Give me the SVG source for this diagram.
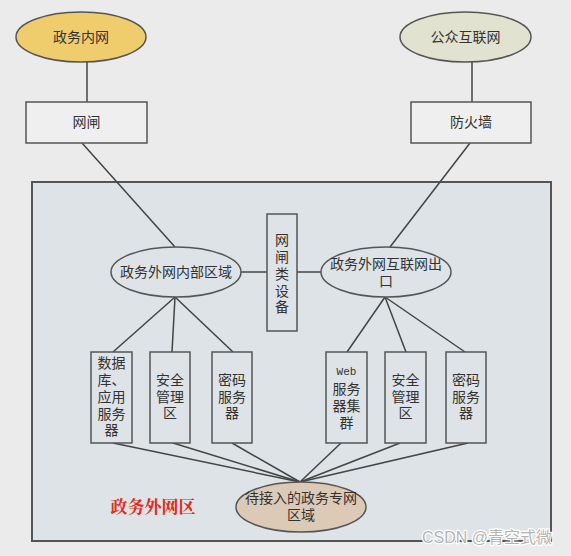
<svg xmlns="http://www.w3.org/2000/svg" width="571" height="556" viewBox="0 0 571 556">
<style>
.t{font-family:"Liberation Sans","Noto Sans CJK SC",sans-serif;font-size:14px;fill:#333;text-anchor:middle;dominant-baseline:central}
.n{stroke:#555;stroke-width:1.5}
.c line{stroke:#444;stroke-width:1.5}
</style>
<rect width="571" height="556" fill="#ebebeb"/>
<g id="zone">
<rect x="32" y="182" width="519" height="359" fill="#dde3e6" stroke="#555" stroke-width="2"/>
<text x="153" y="505" font-family="'Noto Serif CJK SC','Noto Sans CJK SC',serif" font-size="17" font-weight="bold" fill="#e02a20" text-anchor="middle" dominant-baseline="central">政务外网区</text>
</g>
<g class="c" id="connectors">
<line x1="87" y1="62" x2="87" y2="102"/>
<line x1="472" y1="62" x2="472" y2="102"/>
<line x1="82" y1="143" x2="175" y2="247"/>
<line x1="470" y1="143" x2="390" y2="247"/>
<line x1="241" y1="272" x2="267" y2="272"/>
<line x1="297" y1="272" x2="321" y2="272"/>
<line x1="175" y1="297" x2="113" y2="352"/>
<line x1="175" y1="297" x2="172" y2="352"/>
<line x1="175" y1="297" x2="233" y2="352"/>
<line x1="385" y1="297" x2="347" y2="352"/>
<line x1="385" y1="297" x2="406" y2="352"/>
<line x1="385" y1="297" x2="465" y2="352"/>
<line x1="113" y1="443" x2="300" y2="482"/>
<line x1="173" y1="443" x2="300" y2="482"/>
<line x1="232" y1="443" x2="300" y2="482"/>
<line x1="341" y1="443" x2="300" y2="482"/>
<line x1="400" y1="443" x2="300" y2="482"/>
<line x1="468" y1="443" x2="300" y2="482"/>
</g>
<g id="n-zwnw"><ellipse class="n" cx="81" cy="37" rx="65" ry="25" fill="#efcd6c"/><text class="t" x="81" y="37">政务内网</text></g>
<g id="n-gzhlw"><ellipse class="n" cx="465.5" cy="37" rx="65.5" ry="25" fill="#e1e2d0"/><text class="t" x="465.5" y="37">公众互联网</text></g>
<g id="n-wz"><rect class="n" x="26" y="102" width="121" height="41" fill="#efefef"/><text class="t" x="86.5" y="122">网闸</text></g>
<g id="n-fhq"><rect class="n" x="411" y="102" width="120" height="41" fill="#efefef"/><text class="t" x="471" y="122">防火墙</text></g>
<g id="n-inner"><ellipse class="n" cx="176" cy="272" rx="65" ry="25" fill="#dde3e6"/><text class="t" x="176" y="272">政务外网内部区域</text></g>
<g id="n-gate"><rect class="n" x="267" y="214" width="30" height="117" fill="#dde3e6"/>
<text class="t" x="282" font-size="15"><tspan x="282" y="240">网</tspan><tspan x="282" y="257">闸</tspan><tspan x="282" y="274">类</tspan><tspan x="282" y="291">设</tspan><tspan x="282" y="307">备</tspan></text></g>
<g id="n-egress"><ellipse class="n" cx="386" cy="272" rx="65" ry="25" fill="#dde3e6"/><text class="t"><tspan x="386" y="264">政务外网互联网出</tspan><tspan x="386" y="281">口</tspan></text></g>
<g id="n-db"><rect class="n" x="91" y="352" width="41" height="91" fill="#dde3e6"/><text class="t"><tspan x="111.5" y="363">数据</tspan><tspan x="111.5" y="380">库、</tspan><tspan x="111.5" y="397">应用</tspan><tspan x="111.5" y="414">服务</tspan><tspan x="111.5" y="430">器</tspan></text></g>
<g id="n-sec1"><rect class="n" x="150" y="352" width="40" height="91" fill="#dde3e6"/><text class="t"><tspan x="170" y="380">安全</tspan><tspan x="170" y="397">管理</tspan><tspan x="170" y="413">区</tspan></text></g>
<g id="n-key1"><rect class="n" x="212" y="352" width="40" height="91" fill="#dde3e6"/><text class="t"><tspan x="232" y="380">密码</tspan><tspan x="232" y="397">服务</tspan><tspan x="232" y="413">器</tspan></text></g>
<g id="n-web"><rect class="n" x="326" y="352" width="41" height="91" fill="#dde3e6"/><text class="t"><tspan x="346.5" y="372" font-family="'Liberation Mono',monospace" font-size="11">Web</tspan><tspan x="346.5" y="389">服务</tspan><tspan x="346.5" y="406">器集</tspan><tspan x="346.5" y="423">群</tspan></text></g>
<g id="n-sec2"><rect class="n" x="385" y="352" width="41" height="91" fill="#dde3e6"/><text class="t"><tspan x="405.5" y="380">安全</tspan><tspan x="405.5" y="397">管理</tspan><tspan x="405.5" y="413">区</tspan></text></g>
<g id="n-key2"><rect class="n" x="446" y="352" width="40" height="91" fill="#dde3e6"/><text class="t"><tspan x="466" y="380">密码</tspan><tspan x="466" y="397">服务</tspan><tspan x="466" y="413">器</tspan></text></g>
<g id="n-pending"><ellipse class="n" cx="301" cy="507" rx="65" ry="25" fill="#dccab6"/><text class="t"><tspan x="301" y="498">待接入的政务专网</tspan><tspan x="301" y="515">区域</tspan></text></g>
<text x="487" y="537" font-family="'Liberation Sans','Noto Sans CJK SC',sans-serif" font-size="16" fill="#b4b4b4" stroke="#ffffff" stroke-width="2.5" stroke-linejoin="round" paint-order="stroke" text-anchor="middle" dominant-baseline="central">CSDN @青空式微</text>
</svg>
